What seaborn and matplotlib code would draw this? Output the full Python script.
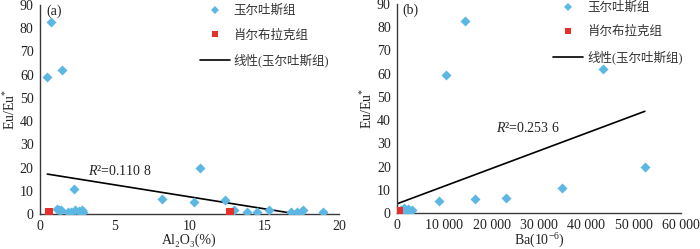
import matplotlib
matplotlib.use("Agg")
import matplotlib.pyplot as plt
import seaborn as sns
import numpy as np
import pandas as pd
from matplotlib.lines import Line2D

# ---------------- data ----------------
# panel (a): Al2O3 (%) vs Eu/Eu*
a_yes_x = [0.49, 0.71, 1.49, 10.7, 2.27, 8.17, 10.3, 12.4, 1.11, 1.29, 1.40, 1.90, 2.05,
           2.36, 2.63, 2.78, 2.85, 2.70, 13.0, 13.85, 14.5, 15.3, 16.8, 17.2, 17.45, 17.6, 18.9]
a_yes_y = [59.2, 82.7, 61.8, 19.8, 10.7, 6.4, 5.3, 6.0, 2.1, 1.9, 1.6, 0.8, 1.0,
           1.7, 1.2, 1.7, 1.0, 0.7, 1.6, 1.0, 1.0, 1.6, 0.7, 1.0, 0.7, 1.6, 0.7]
a_xiao_x = [0.62, 12.7]
a_xiao_y = [1.0, 0.7]
a_trend = (-1.03, 17.7)          # slope, intercept
a_trend_range = (0.49, 18.9)

# panel (b): Ba (10^-6) vs Eu/Eu*
b_yes_x = [14430, 10330, 43540, 52370, 34940, 23090, 16500, 8950, 900, 1390, 2220, 3120,
           600, 1200, 1700, 2600]
b_yes_y = [82.8, 59.4, 62.1, 19.8, 10.6, 6.5, 6.0, 5.3, 1.4, 2.3, 1.7, 1.4,
           0.8, 1.0, 1.2, 1.5]
b_xiao_x = [150, 450]
b_xiao_y = [0.9, 0.9]
b_trend = (0.000761, 3.95)
b_trend_range = (70, 52370)

a_xticks = [0, 5, 10, 15, 20]
b_xticks = [0, 10000, 20000, 30000, 40000, 50000, 60000]
b_xticklabels = ["0", "10 000", "20 000", "30 000", "40 000", "50 000", "60 000"]
yticks = [0, 10, 20, 30, 40, 50, 60, 70, 80, 90]

lab_yes = "玉尔吐斯组"
lab_xiao = "肖尔布拉克组"
lab_lin = "线性(玉尔吐斯组)"

# ---------------- style ----------------
sns.set_theme(style="white")
plt.rcParams['font.family'] = ['Liberation Serif', 'Noto Sans CJK SC']
plt.rcParams['mathtext.fontset'] = 'custom'
plt.rcParams['mathtext.rm'] = 'Liberation Serif'
plt.rcParams['mathtext.it'] = 'Liberation Serif:italic'
BLUE = "#5DB7E3"
RED = "#E8302A"
SPINE = "#3a3a3a"

fig = plt.figure(figsize=(7.0, 2.49), dpi=100)
axA = fig.add_axes([40/700, 35/249, 299/700, 209/249])
axB = fig.add_axes([397/700, 36/249, 284/700, 209/249])


def panel(ax, xs, ys, xx, xy, trend, trange, xlim, xticks, xticklabels, xlabel, tag,
          rtext, rpos, legx, legy, redsize):
    df1 = pd.DataFrame({"x": xs, "y": ys})
    df2 = pd.DataFrame({"x": xx, "y": xy})
    sns.scatterplot(data=df1, x="x", y="y", ax=ax, marker="D", s=26, color=BLUE,
                    edgecolor=BLUE, linewidth=0, zorder=3)
    sns.scatterplot(data=df2, x="x", y="y", ax=ax, marker="s", s=redsize, color=RED,
                    edgecolor=RED, linewidth=0, zorder=4)
    tx = np.array(trange)
    ax.plot(tx, trend[0]*tx + trend[1], color="black", lw=1.2, zorder=2)
    ax.set_xlim(*xlim)
    ax.set_ylim(0, 90)
    ax.set_xticks(xticks)
    ax.set_xticklabels(xticklabels)
    ax.set_yticks(yticks)
    for s in ["top", "right"]:
        ax.spines[s].set_visible(False)
    for s in ["left", "bottom"]:
        ax.spines[s].set_color(SPINE)
        ax.spines[s].set_linewidth(1.0)
    ax.tick_params(axis="both", direction="out", length=3, width=1.0, color=SPINE,
                   labelsize=10, pad=1.5, labelcolor="#222222")
    ax.set_xlabel(xlabel, fontsize=10, labelpad=0, color="#222222")
    ax.set_ylabel("Eu/Eu$^{*}$", fontsize=10, labelpad=1, color="#222222")
    ax.text(0.02, 1.0, tag, transform=ax.transAxes, fontsize=10, va="top",
            ha="left", color="#222222")
    ax.text(rpos[0], rpos[1], rtext, fontsize=10, va="center", ha="left",
            color="#222222")
    handles = [
        Line2D([], [], marker="D", ls="none", color=BLUE, markersize=4.5, markeredgewidth=0),
        Line2D([], [], marker="s", ls="none", color=RED, markersize=5, markeredgewidth=0),
        Line2D([], [], color="black", lw=1.2),
    ]
    leg = ax.legend(handles, [lab_yes, lab_xiao, lab_lin], loc="upper left",
                    bbox_to_anchor=(legx, legy), frameon=False, fontsize=9,
                    handlelength=2.4, handletextpad=0.3, labelspacing=0.95,
                    borderpad=0, borderaxespad=0)
    for t in leg.get_texts():
        t.set_color("#333333")


panel(axA, a_yes_x, a_yes_y, a_xiao_x, a_xiao_y, a_trend, a_trend_range, (0, 20),
      a_xticks, [str(v) for v in a_xticks], "Al₂O₃(%)", "(a)",
      "$R$²=0.110 8", (3.2, 18.5), 0.535, 1.0, 26)
panel(axB, b_yes_x, b_yes_y, b_xiao_x, b_xiao_y, b_trend, b_trend_range, (0, 60000),
      b_xticks, b_xticklabels, "Ba(10$^{-6}$)", "(b)",
      "$R$²=0.253 6", (21000, 36.6), 0.55, 1.01, 40)

fig.savefig("out.png", dpi=100)
